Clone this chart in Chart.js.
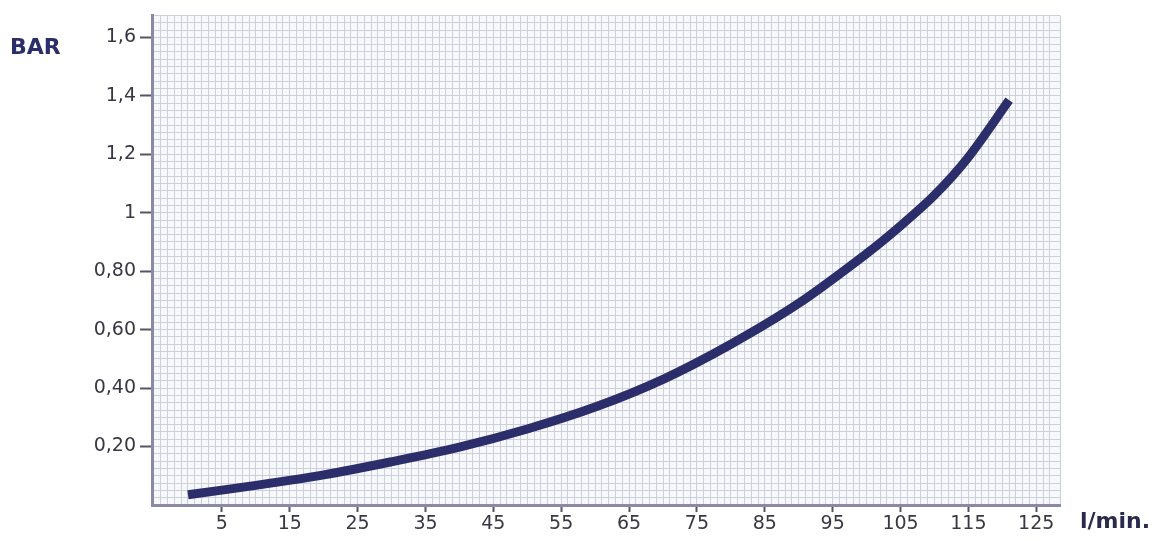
<!DOCTYPE html>
<html>
<head>
<meta charset="utf-8">
<script src="https://cdn.jsdelivr.net/npm/chart.js@4"></script>
<style>
  html, body { margin: 0; padding: 0; background: #fff; }
  #wrap { width: 1167px; height: 541px; position: relative; }
</style>
</head>
<body>
<div id="wrap"><canvas id="chart"></canvas></div>
<script>
// flow (l/min) and pressure drop (bar)
const flow = [0, 10, 20, 30, 40, 50, 60, 70, 80, 90, 100, 105, 110, 115, 121];
const pressure = [0.035, 0.067, 0.103, 0.148, 0.198, 0.26, 0.335, 0.43, 0.55, 0.69, 0.86, 0.955, 1.06, 1.19, 1.385];

const xLabels = [5, 15, 25, 35, 45, 55, 65, 75, 85, 95, 105, 115, 125];
const yLabels = [0.2, 0.4, 0.6, 0.8, 1, 1.2, 1.4, 1.6];

const navy = "#2c2e6c";
const textColor = "#383844";

function isXLabel(v) {
  return xLabels.some(l => Math.abs(l - v) < 1e-6);
}
function isYLabel(v) {
  return yLabels.some(l => Math.abs(l - v) < 1e-6);
}
function fmtY(v) {
  if (Math.abs(v - 1) < 1e-6) return "1";
  if (v > 1) return v.toFixed(1).replace(".", ",");
  return v.toFixed(2).replace(".", ",");
}

const paperPlugin = {
  id: "paper",
  beforeDraw(chart) {
    const { ctx, chartArea: a } = chart;
    ctx.save();
    ctx.fillStyle = "#f7f8fc";
    ctx.fillRect(a.left, a.top, a.right - a.left, a.bottom - a.top);
    ctx.restore();
  },
  afterDraw(chart) {
    const { ctx, chartArea: a } = chart;
    ctx.save();
    ctx.fillStyle = navy;
    ctx.font = "bold 22px 'DejaVu Sans'";
    ctx.textBaseline = "middle";
    ctx.textAlign = "left";
    ctx.fillText("BAR", 10, 48);
    ctx.fillStyle = "#2a2b4a";
    ctx.fillText("l/min.", a.right + 20, 522);
    ctx.restore();
  }
};

new Chart(document.getElementById("chart"), {
  type: "line",
  data: {
    datasets: [{
      data: flow.map((x, i) => ({ x: x, y: pressure[i] })),
      borderColor: navy,
      borderWidth: 9,
      borderCapStyle: "butt",
      pointRadius: 0,
      tension: 0.3,
      fill: false
    }]
  },
  options: {
    responsive: true,
    maintainAspectRatio: false,
    animation: false,
    layout: { padding: { top: 12, right: 107, left: 0, bottom: 0 } },
    plugins: { legend: { display: false }, tooltip: { enabled: false } },
    scales: {
      x: {
        type: "linear",
        min: -5.3,
        max: 128.5,
        afterFit: (s) => { s.height = 36; },
        border: { display: true, color: "#8a8aa6", width: 3 },
        grid: {
          color: "#cdcfd9",
          lineWidth: 1,
          tickLength: 7,
          tickColor: (c) => (c.tick && isXLabel(c.tick.value)) ? "#555566" : "rgba(0,0,0,0)",
          tickWidth: 2
        },
        ticks: {
          stepSize: 1,
          autoSkip: false,
          maxRotation: 0,
          padding: 1,
          color: textColor,
          font: { family: "'DejaVu Sans'", size: 19 },
          callback: (v) => isXLabel(v) ? String(Math.round(v)) : ""
        }
      },
      y: {
        min: 0,
        max: 1.675,
        afterFit: (s) => { s.width = 152; },
        border: { display: true, color: "#8a8aa6", width: 3 },
        grid: {
          color: "#cdcfd9",
          lineWidth: 1,
          tickLength: 12,
          tickColor: (c) => (c.tick && isYLabel(c.tick.value)) ? "#555566" : "rgba(0,0,0,0)",
          tickWidth: 2
        },
        ticks: {
          stepSize: 0.025,
          autoSkip: false,
          padding: 4,
          color: textColor,
          font: { family: "'DejaVu Sans'", size: 19 },
          callback: (v) => isYLabel(v) ? fmtY(v) : ""
        }
      }
    }
  },
  plugins: [paperPlugin]
});
</script>
</body>
</html>
